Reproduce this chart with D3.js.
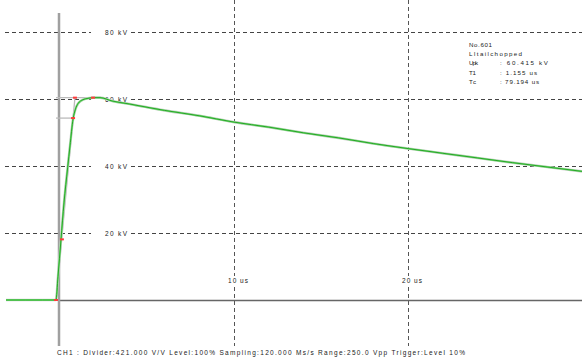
<!DOCTYPE html>
<html>
<head>
<meta charset="utf-8">
<script src="https://cdn.jsdelivr.net/npm/d3@7"></script>
<style>
  html, body { margin: 0; padding: 0; background: #fff; }
  svg { display: block; }
  text { font-family: "Liberation Sans", Arial, sans-serif; fill: #222; }
</style>
</head>
<body>
<svg id="chart" width="582" height="362"></svg>
<script>
// ---- data ----
const timeUs = [-3.1, -2, -1, -0.23, -0.115, 0.057, 0.23, 0.44, 0.575, 0.75, 0.89, 1.03, 1.32, 1.61, 1.9, 2.3, 3, 4, 6, 8, 10, 12, 14, 16, 18, 20, 22, 24, 26, 28, 30];
const voltageKv = [0, 0, 0, 0, 7, 18, 29, 39.5, 46, 54, 57, 58.6, 59.8, 60.2, 60.4, 60.4, 59.4, 58.5, 56.6, 55.0, 53.1, 51.6, 49.9, 48.4, 46.7, 45.2, 43.8, 42.4, 41.0, 39.7, 38.4];

const kvTicks = [20, 40, 60, 80];
const kvTickLabels = ["20 kV", "40 kV", "60 kV", "80 kV"];
const usTicks = [10, 20, 30];
const usTickLabels = ["10 us", "20 us", ""];

// evaluation points: virtual origin, 30%, 90%, front line at peak, peak
const markerT = [-0.23, 0.11, 0.75, 0.86, 1.9];
const markerKv = [0, 18.1, 54.3, 60.4, 60.4];

const infoLabels = ["No.601", "LItailchopped", "Upk", "T1", "Tc"];
const infoValues = ["", "", ": 60.415 kV", ": 1.155 us", ": 79.194 us"];
const footer = "CH1 : Divider:421.000 V/V  Level:100%  Sampling:120.000 Ms/s  Range:250.0 Vpp  Trigger:Level 10%";

// ---- scales ----
const x = d3.scaleLinear().domain([0, 30]).range([60, 582]);
const y = d3.scaleLinear().domain([0, 80]).range([300, 32]);

const svg = d3.select("#chart");

// horizontal dashed gridlines
svg.append("g").selectAll("line").data(kvTicks).join("line")
  .attr("x1", 5).attr("x2", 582)
  .attr("y1", d => Math.round(y(d)) + 0.5).attr("y2", d => Math.round(y(d)) + 0.5)
  .attr("stroke", "#444").attr("stroke-width", 1).attr("stroke-dasharray", "4,3");

// vertical dashed gridlines
svg.append("g").selectAll("line").data(usTicks).join("line")
  .attr("x1", d => Math.round(x(d)) + 0.5).attr("x2", d => Math.round(x(d)) + 0.5)
  .attr("y1", 0).attr("y2", 346)
  .attr("stroke", "#555").attr("stroke-width", 1).attr("stroke-dasharray", "4,3");

// kV labels with white knock-out
const kvG = svg.append("g");
kvTicks.forEach((d, i) => {
  kvG.append("rect").attr("x", 91).attr("y", y(d) - 4).attr("width", 37).attr("height", 8).attr("fill", "#fff");
  kvG.append("text").attr("x", 105).attr("y", y(d) + 2.5)
    .attr("font-size", 6.5).attr("textLength", 22).attr("lengthAdjust", "spacing")
    .text(kvTickLabels[i]);
});

// us labels
usTicks.forEach((d, i) => {
  if (!usTickLabels[i]) return;
  svg.append("rect").attr("x", x(d) - 7).attr("y", y(0) - 24).attr("width", 22).attr("height", 8).attr("fill", "#fff");
  svg.append("text").attr("x", x(d) - 6).attr("y", y(0) - 17.5)
    .attr("font-size", 6.5).attr("textLength", 20).attr("lengthAdjust", "spacing")
    .text(usTickLabels[i]);
});

// baseline (0 kV)
svg.append("line").attr("x1", x(0) - 1).attr("x2", 582)
  .attr("y1", y(0) + 0.5).attr("y2", y(0) + 0.5)
  .attr("stroke", "#666").attr("stroke-width", 1.4);

// y axis line
svg.append("line").attr("x1", x(0) - 1).attr("x2", x(0) - 1)
  .attr("y1", 13).attr("y2", 346)
  .attr("stroke", "#a0a0a0").attr("stroke-width", 2.5);

// construction lines
const cons = svg.append("g").attr("stroke", "#bbb").attr("stroke-width", 1.3);
cons.append("line").attr("x1", x(markerT[0])).attr("y1", y(markerKv[0])).attr("x2", x(markerT[3])).attr("y2", y(markerKv[3]));
cons.append("line").attr("x1", x(markerT[0])).attr("y1", y(markerKv[2])).attr("x2", x(markerT[2])).attr("y2", y(markerKv[2]));
cons.append("line").attr("x1", x(markerT[0])).attr("y1", y(markerKv[4])).attr("x2", x(markerT[4])).attr("y2", y(markerKv[4]));

// waveform
const pts = timeUs.map((t, i) => [t, voltageKv[i]]);
const line = d3.line().x(d => x(d[0])).y(d => y(d[1])).curve(d3.curveMonotoneX);
svg.append("path").attr("d", line(pts)).attr("fill", "none")
  .attr("stroke", "#cfcfcf").attr("stroke-width", 2.6);
svg.append("path").attr("d", line(pts)).attr("fill", "none")
  .attr("stroke", "#7ddf7d").attr("stroke-width", 1.8);
svg.append("path").attr("d", line(pts)).attr("fill", "none")
  .attr("stroke", "#1e9e1e").attr("stroke-width", 0.9);

// red markers
svg.append("g").selectAll("rect").data(markerT).join("rect")
  .attr("x", (d) => x(d) - 2).attr("y", (d, i) => y(markerKv[i]) - 1)
  .attr("width", 4).attr("height", 2).attr("fill", "#ff3b3b");

// info block
const info = svg.append("g");
const infoW = [23, 53, 9, 7, 7];
const valW = [0, 0, 48, 37, 39];
infoLabels.forEach((s, i) => {
  const yy = 47 + i * 9.2;
  info.append("text").attr("x", 469).attr("y", yy).attr("font-size", 6.2)
    .attr("textLength", infoW[i]).attr("lengthAdjust", "spacing").text(s);
  if (infoValues[i]) {
    info.append("text").attr("x", 500).attr("y", yy).attr("font-size", 6.2)
      .attr("textLength", valW[i]).attr("lengthAdjust", "spacing").text(infoValues[i]);
  }
});

// footer
svg.append("text").attr("x", 57).attr("y", 355).attr("font-size", 6.5)
  .attr("textLength", 408).attr("lengthAdjust", "spacing").text(footer);
</script>
</body>
</html>
